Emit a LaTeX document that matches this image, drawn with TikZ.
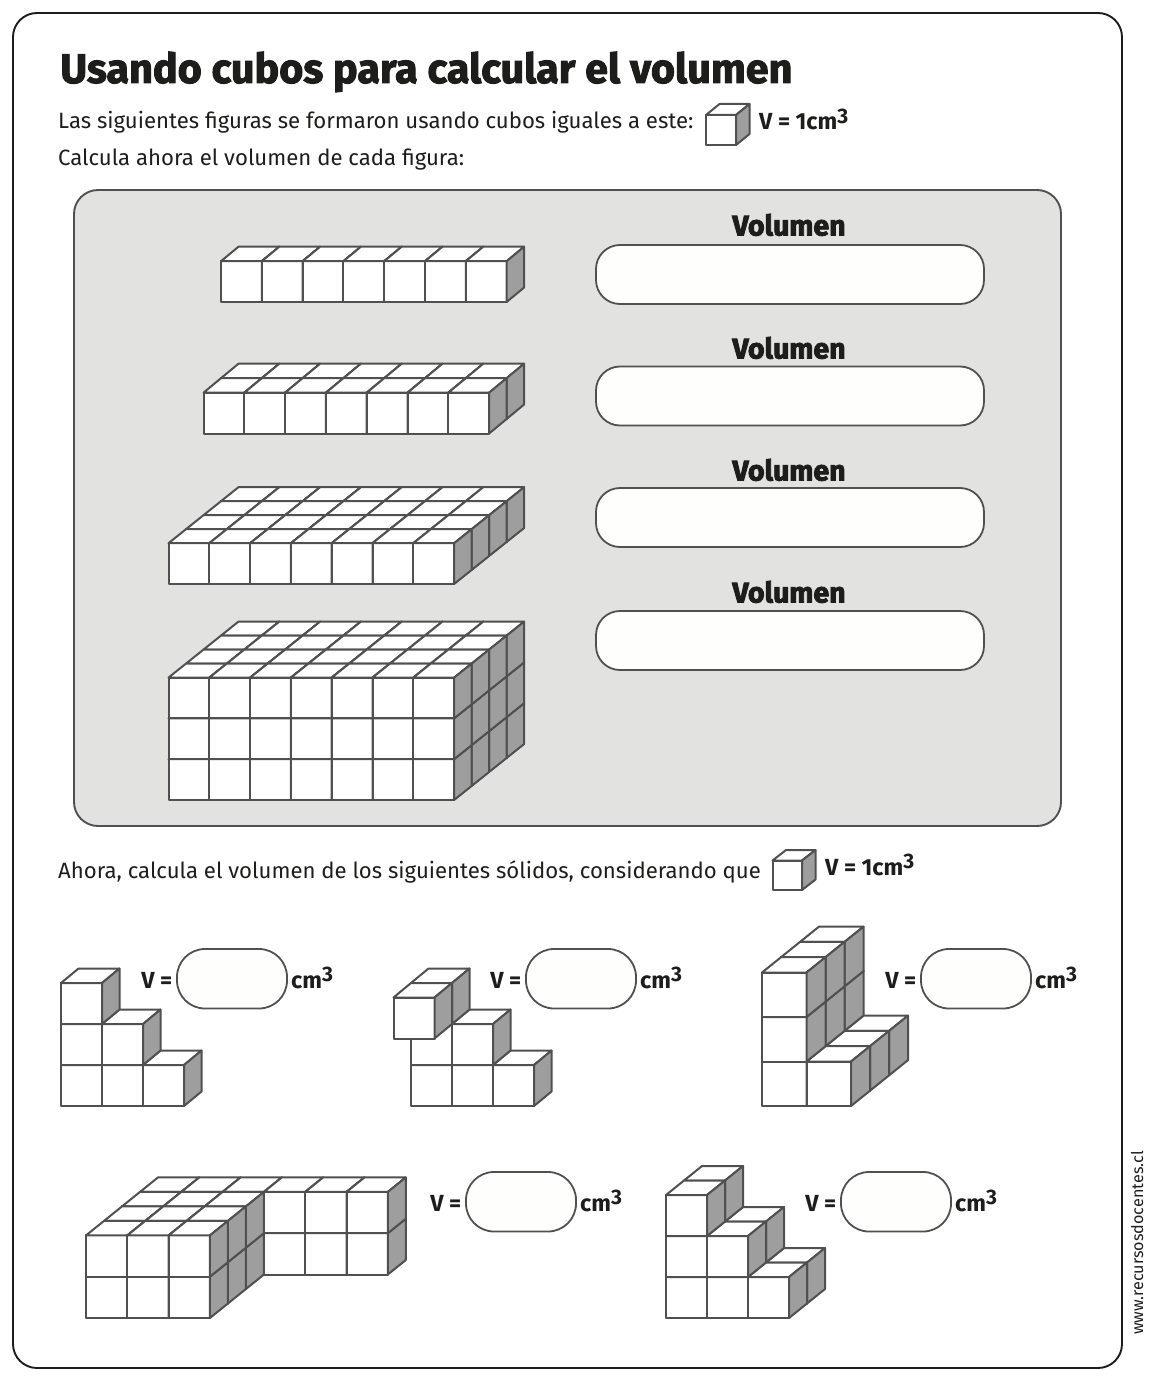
\documentclass[tikz,border=0pt]{standalone}
\usepackage{fontspec}
\setmainfont{Fira Sans}
\newfontfamily\titlefont[FakeBold=2.2]{Fira Sans Bold}
\newfontfamily\volfont[FakeBold=3]{Fira Sans Bold}
\definecolor{linec}{HTML}{505050}
\definecolor{sidec}{HTML}{9E9E9E}
\definecolor{panelc}{HTML}{E2E2E1}
\definecolor{boxc}{HTML}{FEFEFC}
\definecolor{inkc}{HTML}{1D1D1B}
\tikzset{
  cubeline/.style={draw=linec,line width=2pt,line join=round},
  answerbox/.style={draw=linec,line width=1.8pt,fill=boxc},
  bodytxt/.style={anchor=base west,inner sep=0pt,text=inkc,font=\fontsize{22.15}{27}\selectfont},
  vtxt/.style={anchor=base west,inner sep=0pt,text=inkc,font=\fontsize{23.3}{27}\selectfont\bfseries},
  voltxt/.style={anchor=base,inner sep=0pt,text=inkc,font=\fontsize{28.5}{32}\volfont},
}
\newcommand{\setcube}[5]{\def\cox{#1}\def\coy{#2}\def\cs{#3}\def\cdx{#4}\def\cdy{#5}}
\newcommand{\cub}[3]{%
  \pgfmathsetmacro\px{\cox+#1*\cs+#2*\cdx}%
  \pgfmathsetmacro\py{\coy-#3*\cs-#2*\cdy}%
  \draw[cubeline,fill=white] (\px,\py) rectangle ++(\cs,-\cs);
  \draw[cubeline,fill=white] (\px,\py-\cs) -- ++(\cdx,-\cdy) -- ++(\cs,0) -- ++(-\cdx,\cdy) -- cycle;
  \draw[cubeline,fill=sidec] (\px+\cs,\py) -- ++(\cdx,-\cdy) -- ++(0,-\cs) -- ++(-\cdx,\cdy) -- cycle;
}
\newcommand{\cubo}[1]{cm\raisebox{.3em}{\fontsize{21}{21}\selectfont 3}}
\begin{document}
\begin{tikzpicture}[x=1pt,y=-1pt]
\useasboundingbox (0,0) rectangle (1154,1380);
\draw[draw=inkc,line width=1.9pt,rounded corners=24pt] (13,13) rectangle (1122,1368);
% headings
\node[anchor=base west,inner sep=0pt,text=inkc,font=\fontsize{41.3}{46}\titlefont] (title) at (60,83) {Usando cubos para calcular el volumen};
\node[bodytxt] (intro) at (58,129) {Las siguientes figuras se formaron usando cubos iguales a este:};
\node[vtxt] (v1) at (759,130) {V = 1\cubo{}};
\node[bodytxt] (intro2) at (58,166) {Calcula ahora el volumen de cada figura:};
\setcube{706}{145}{30}{13.5}{11}
\cub{0}{0}{0}
% panel
\draw[draw=linec,line width=1.9pt,fill=panelc,rounded corners=24pt] (74,190) rectangle (1061,826);
\foreach \yb/\nm/\yv in {245/a/235.5,366.5/b/358.5,488/c/480.5,611/d/602.5}{
  \draw[answerbox,rounded corners=24pt] (596,\yb) rectangle (984,\yb+59);
  \node[voltxt] (vol\nm) at (789,\yv) {Volumen};
}
% figure 1
\setcube{221}{302}{40.8}{17.5}{14.5}
\foreach \i in {0,...,6} {\cub{\i}{0}{0}}
% figure 2
\setcube{203.5}{433.5}{40.8}{17.5}{14.5}
\foreach \d in {1,0} {\foreach \i in {0,...,6} {\cub{\i}{\d}{0}}}
% figure 3
\setcube{168.5}{584}{40.8}{17.5}{14}
\foreach \d in {3,2,1,0} {\foreach \i in {0,...,6} {\cub{\i}{\d}{0}}}
% figure 4
\setcube{168.5}{800}{40.8}{17.5}{14}
\foreach \d in {3,2,1,0} {\foreach \h in {0,1,2} {\foreach \i in {0,...,6} {\cub{\i}{\d}{\h}}}}
% second instruction
\node[bodytxt] (intro3) at (58,878) {Ahora, calcula el volumen de los siguientes sólidos, considerando que};
\setcube{772.5}{890}{29.5}{13.5}{10.5}
\cub{0}{0}{0}
\node[vtxt] (v2) at (825,875) {V = 1\cubo{}};
% answer boxes with labels
\foreach \xb/\yb/\nm in {177/949/e,526/949/f,921/949/g,466/1172/h,841/1172/i}{
  \draw[answerbox,rounded corners=28pt] (\xb,\yb) rectangle (\xb+110,\yb+59.5);
  \node[vtxt,anchor=base east] (eq\nm) at (\xb-4.5,\yb+39) {V =};
  \node[vtxt] (cm\nm) at (\xb+114,\yb+39) {\cubo{}};
}
% solid A
\setcube{61}{1106}{41}{17.5}{14.5}
\foreach \i/\h in {0/0,1/0,2/0,0/1,1/1,0/2} {\cub{\i}{0}{\h}}
% solid B
\setcube{411}{1106}{41}{17.5}{14.5}
\foreach \i/\h in {0/0,1/0,2/0,0/1,1/1,0/2} {\cub{\i}{0}{\h}}
\cub{0}{-1}{2}
% solid C
\setcube{762}{1106}{44.5}{19}{15.3}
\foreach \d in {2,1,0} {\foreach \i/\h in {0/0,1/0,0/1,0/2} {\cub{\i}{\d}{\h}}}
% solid D
\setcube{86}{1318}{41.3}{18}{14.5}
\foreach \h in {0,1} {\foreach \i in {0,...,5} {\cub{\i}{3}{\h}}}
\foreach \d in {2,1,0} {\foreach \h in {0,1} {\foreach \i in {0,1,2} {\cub{\i}{\d}{\h}}}}
% solid E
\setcube{666}{1318}{41}{18}{14.5}
\foreach \d in {1,0} {\foreach \i/\h in {0/0,1/0,2/0,0/1,1/1,0/2} {\cub{\i}{\d}{\h}}}
% source
\node[anchor=base west,rotate=90,inner sep=0pt,text=inkc,font=\fontsize{16.2}{20}\selectfont] (src) at (1143,1335) {www.recursosdocentes.cl};
\end{tikzpicture}
\end{document}
